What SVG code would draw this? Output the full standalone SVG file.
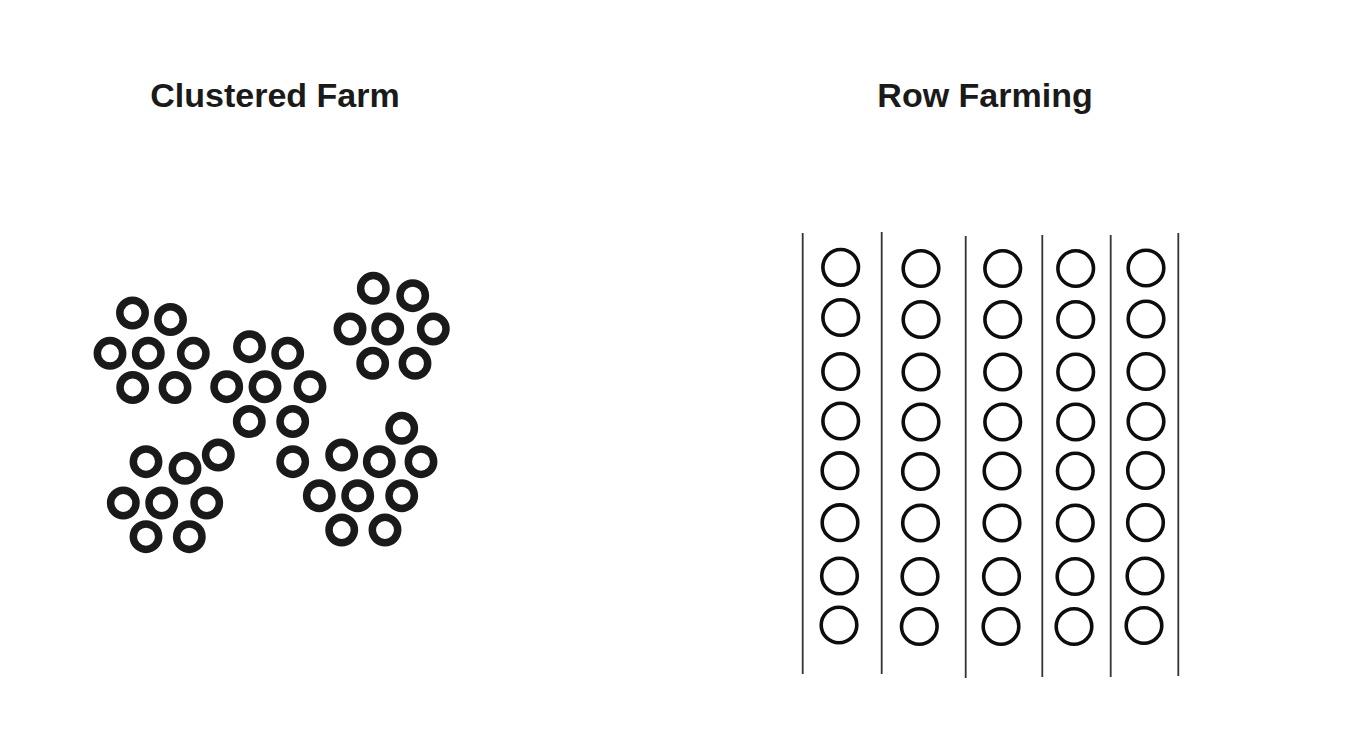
<svg xmlns="http://www.w3.org/2000/svg" width="1359" height="735" viewBox="0 0 1359 735">
<style>
.title{font-family:"Liberation Sans",Arial,sans-serif;font-weight:bold;font-size:34px;fill:#1a1a1a;text-anchor:middle}
.cl{fill:none;stroke:#1a1a1a;stroke-width:7.5}
.rw{fill:none;stroke:#0d0d0d;stroke-width:3.6}
.ln{stroke:#333;stroke-width:1.8}
</style>
<rect width="1359" height="735" fill="#fff"/>
<text class="title" x="275" y="107">Clustered Farm</text>
<text class="title" x="985" y="107">Row Farming</text>
<g id="clustered-farm">
<g id="cluster-1">
<circle class="cl" cx="132.5" cy="313" r="12.7"/>
<circle class="cl" cx="170.5" cy="319.5" r="12.7"/>
<circle class="cl" cx="110" cy="353.3" r="12.7"/>
<circle class="cl" cx="148.3" cy="353.3" r="12.7"/>
<circle class="cl" cx="193.3" cy="353.3" r="12.7"/>
<circle class="cl" cx="132.7" cy="387.5" r="12.7"/>
<circle class="cl" cx="175" cy="387.5" r="12.7"/>
</g>
<g id="cluster-2">
<circle class="cl" cx="249.5" cy="346.7" r="12.7"/>
<circle class="cl" cx="287.7" cy="353.3" r="12.7"/>
<circle class="cl" cx="226.7" cy="386.7" r="12.7"/>
<circle class="cl" cx="265" cy="386.7" r="12.7"/>
<circle class="cl" cx="310" cy="386.7" r="12.7"/>
<circle class="cl" cx="249.3" cy="421.5" r="12.7"/>
<circle class="cl" cx="292.7" cy="421.5" r="12.7"/>
</g>
<g id="cluster-3">
<circle class="cl" cx="373.3" cy="288.3" r="12.7"/>
<circle class="cl" cx="412.7" cy="295.7" r="12.7"/>
<circle class="cl" cx="350" cy="329" r="12.7"/>
<circle class="cl" cx="387.7" cy="329" r="12.7"/>
<circle class="cl" cx="433.3" cy="329" r="12.7"/>
<circle class="cl" cx="372.7" cy="363.3" r="12.7"/>
<circle class="cl" cx="415" cy="363.3" r="12.7"/>
</g>
<g id="cluster-4">
<circle class="cl" cx="218.3" cy="455" r="12.7"/>
<circle class="cl" cx="146" cy="461.7" r="12.7"/>
<circle class="cl" cx="185" cy="468.3" r="12.7"/>
<circle class="cl" cx="123.3" cy="503" r="12.7"/>
<circle class="cl" cx="161.7" cy="503" r="12.7"/>
<circle class="cl" cx="206.7" cy="503" r="12.7"/>
<circle class="cl" cx="146" cy="536.7" r="12.7"/>
<circle class="cl" cx="189.3" cy="536.7" r="12.7"/>
</g>
<g id="cluster-5">
<circle class="cl" cx="292.7" cy="461.7" r="12.7"/>
<circle class="cl" cx="401.7" cy="428.3" r="12.7"/>
<circle class="cl" cx="341.7" cy="455" r="12.7"/>
<circle class="cl" cx="379.3" cy="461.7" r="12.7"/>
<circle class="cl" cx="421" cy="461.7" r="12.7"/>
<circle class="cl" cx="319.3" cy="495.7" r="12.7"/>
<circle class="cl" cx="357.7" cy="495.7" r="12.7"/>
<circle class="cl" cx="401.7" cy="495.7" r="12.7"/>
<circle class="cl" cx="341.7" cy="530" r="12.7"/>
<circle class="cl" cx="385" cy="530" r="12.7"/>
</g>
</g>
<g id="row-farming">
<g id="row-lines">
<line class="ln" x1="802.7" y1="233" x2="802.7" y2="674"/>
<line class="ln" x1="881.7" y1="232" x2="881.7" y2="674"/>
<line class="ln" x1="965.7" y1="236" x2="965.7" y2="678"/>
<line class="ln" x1="1042.3" y1="235" x2="1042.3" y2="677"/>
<line class="ln" x1="1110.7" y1="235" x2="1110.7" y2="677"/>
<line class="ln" x1="1178.3" y1="233" x2="1178.3" y2="676"/>
</g>
<g id="row-1">
<circle class="rw" cx="840.7" cy="267.3" r="17.8"/>
<circle class="rw" cx="840.7" cy="317.5" r="17.8"/>
<circle class="rw" cx="840.7" cy="371.5" r="17.8"/>
<circle class="rw" cx="840.7" cy="421" r="17.8"/>
<circle class="rw" cx="840" cy="470.7" r="17.8"/>
<circle class="rw" cx="840" cy="522.7" r="17.8"/>
<circle class="rw" cx="839.5" cy="576" r="17.8"/>
<circle class="rw" cx="839" cy="625" r="17.8"/>
</g>
<g id="row-2">
<circle class="rw" cx="921" cy="268.5" r="17.8"/>
<circle class="rw" cx="921" cy="319.5" r="17.8"/>
<circle class="rw" cx="921" cy="372" r="17.8"/>
<circle class="rw" cx="921" cy="422" r="17.8"/>
<circle class="rw" cx="920.5" cy="471.5" r="17.8"/>
<circle class="rw" cx="920.5" cy="523" r="17.8"/>
<circle class="rw" cx="920" cy="576.5" r="17.8"/>
<circle class="rw" cx="919.3" cy="626.5" r="17.8"/>
</g>
<g id="row-3">
<circle class="rw" cx="1002.7" cy="268.5" r="17.8"/>
<circle class="rw" cx="1002.7" cy="319.5" r="17.8"/>
<circle class="rw" cx="1002.7" cy="372" r="17.8"/>
<circle class="rw" cx="1002.7" cy="422" r="17.8"/>
<circle class="rw" cx="1002" cy="471" r="17.8"/>
<circle class="rw" cx="1002" cy="523" r="17.8"/>
<circle class="rw" cx="1001.5" cy="576.5" r="17.8"/>
<circle class="rw" cx="1001" cy="626.5" r="17.8"/>
</g>
<g id="row-4">
<circle class="rw" cx="1075.7" cy="268.5" r="17.8"/>
<circle class="rw" cx="1075.7" cy="319.5" r="17.8"/>
<circle class="rw" cx="1075.7" cy="372" r="17.8"/>
<circle class="rw" cx="1075.7" cy="422" r="17.8"/>
<circle class="rw" cx="1075.3" cy="471" r="17.8"/>
<circle class="rw" cx="1075.3" cy="523" r="17.8"/>
<circle class="rw" cx="1075" cy="576.5" r="17.8"/>
<circle class="rw" cx="1074" cy="626.5" r="17.8"/>
</g>
<g id="row-5">
<circle class="rw" cx="1146" cy="268" r="17.8"/>
<circle class="rw" cx="1146" cy="319" r="17.8"/>
<circle class="rw" cx="1146" cy="371.5" r="17.8"/>
<circle class="rw" cx="1146" cy="421.5" r="17.8"/>
<circle class="rw" cx="1145.5" cy="470.5" r="17.8"/>
<circle class="rw" cx="1145.5" cy="522.7" r="17.8"/>
<circle class="rw" cx="1145" cy="576" r="17.8"/>
<circle class="rw" cx="1144" cy="625.5" r="17.8"/>
</g>
</g>
</svg>
